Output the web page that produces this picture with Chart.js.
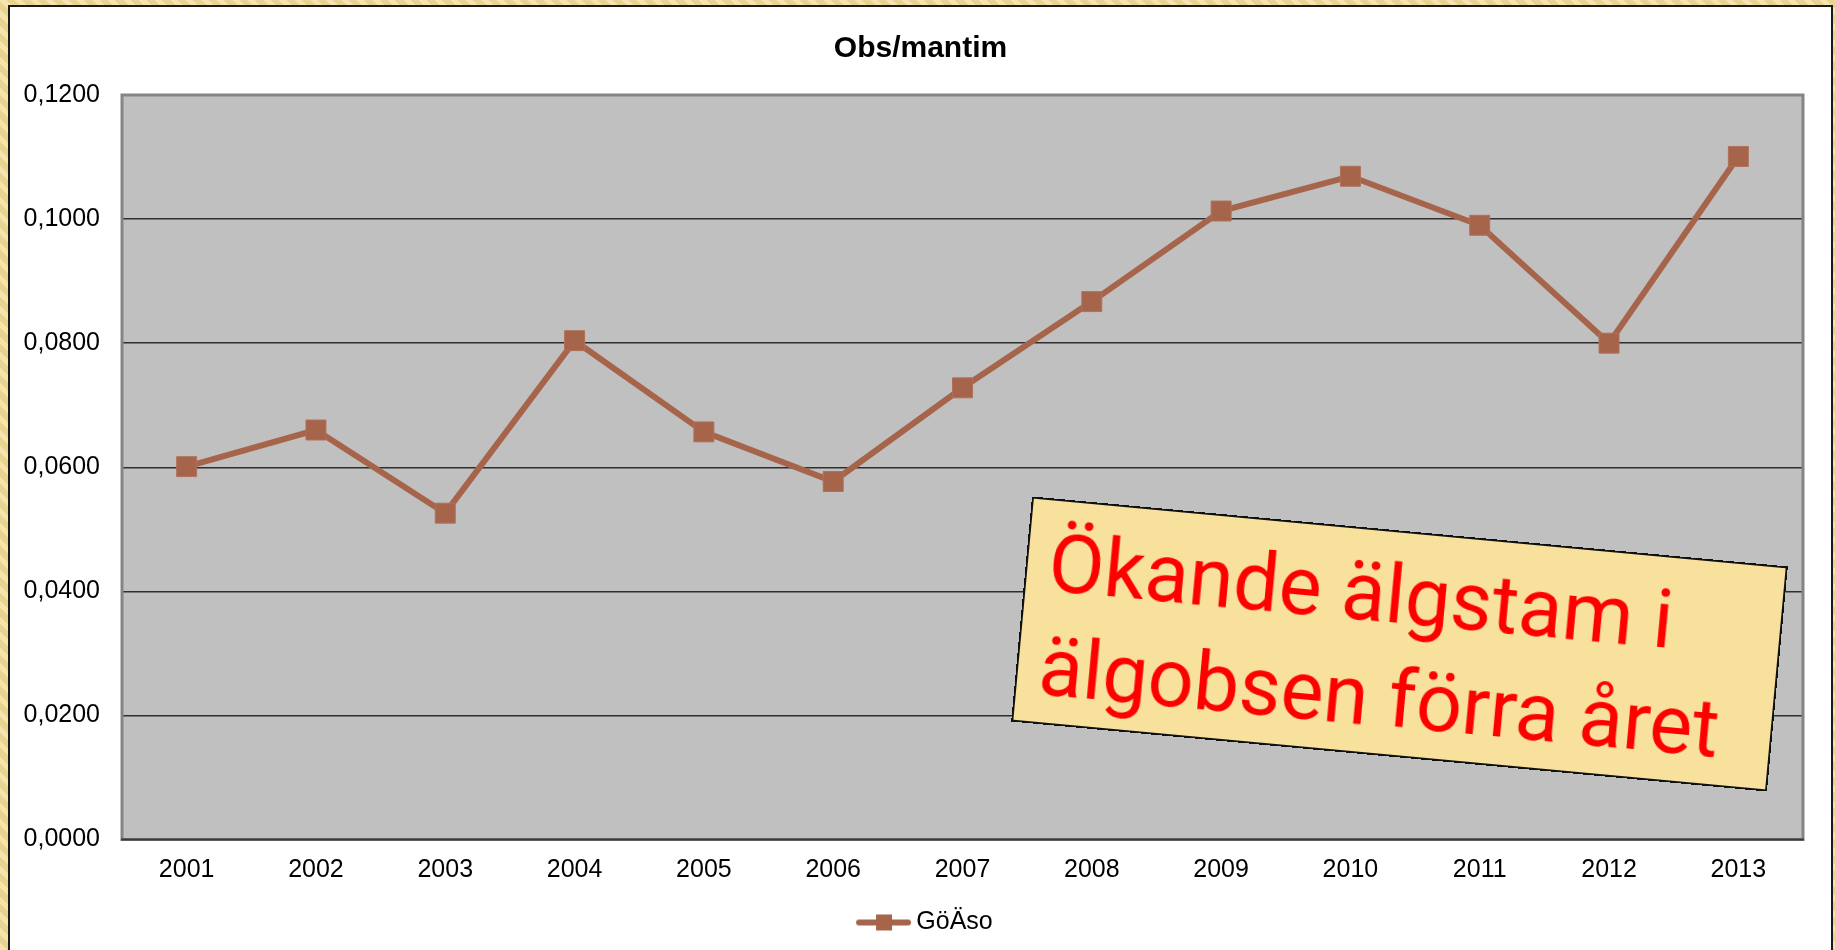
<!DOCTYPE html>
<html lang="sv">
<head>
<meta charset="utf-8">
<title>Obs/mantim</title>
<script src="https://cdn.jsdelivr.net/npm/chart.js@4.4.1/dist/chart.umd.min.js"></script>
<style>
    html, body { margin: 0; padding: 0; width: 1835px; height: 950px; overflow: hidden; }
    body {
        position: relative;
        background: #f1dc9c repeating-linear-gradient(45deg, #f6e4ad 0 5px, #ead290 5px 11px);
        font-family: "Liberation Sans", Arial, sans-serif;
    }
    #frame {
        position: absolute; left: 8px; top: 5px;
        width: 1821px; height: 960px;
        border: 2px solid #1a1a1a; background: #fff;
    }
    #chart { display: block; }
    #note {
        position: absolute; left: 1020px; top: 531px;
        width: 759px; height: 226px; box-sizing: border-box;
        border: 2px solid #111; background: #f8e09d;
        transform: rotate(5.29deg);
        color: #ff0000; font-family: Roboto, sans-serif;
        font-size: 81px; line-height: 104px;
        padding: 11px 0 0 21px; white-space: nowrap;
    }
</style>
</head>
<body>
<div id="frame"><canvas id="chart" width="1821" height="943"></canvas></div>
<div id="note">Ökande älgstam i<br>älgobsen förra året</div>
<script>
// data
const years = ['2001', '2002', '2003', '2004', '2005', '2006', '2007', '2008', '2009', '2010', '2011', '2012', '2013'];
const obsPerHour = [0.0601, 0.0660, 0.0526, 0.0804, 0.0657, 0.0577, 0.0728, 0.0867, 0.1013, 0.1069, 0.0990, 0.0800, 0.1101];
const seriesName = 'GöÄso';
const chartTitle = 'Obs/mantim';
const yTicks = [0, 0.02, 0.04, 0.06, 0.08, 0.10, 0.12];

const lineColor = '#a6654b';
const FONT = '"Liberation Sans", Arial, sans-serif';

// legend icon: line with a square marker, like the spreadsheet legend
// (drawn a bit off centre so the whole entry sits where the original does)
function legendIcon() {
    const c = document.createElement('canvas');
    c.width = 72;
    c.height = 20;
    const ctx = c.getContext('2d');
    const o = 16;
    ctx.strokeStyle = lineColor;
    ctx.lineWidth = 6;
    ctx.lineCap = 'round';
    ctx.beginPath();
    ctx.moveTo(o + 3, 10);
    ctx.lineTo(o + 52, 10);
    ctx.stroke();
    ctx.fillStyle = lineColor;
    ctx.fillRect(o + 20, 2, 16, 16);
    return c;
}

// grey plot area with its border
const plotArea = {
    id: 'plotArea',
    beforeDraw(chart) {
        const { ctx, chartArea: a } = chart;
        ctx.save();
        ctx.fillStyle = '#c0c0c0';
        ctx.fillRect(a.left, a.top, a.right - a.left, a.bottom - a.top);
        ctx.restore();
    },
    beforeDatasetsDraw(chart) {
        const { ctx, chartArea: a } = chart;
        ctx.save();
        ctx.strokeStyle = '#858585';
        ctx.lineWidth = 3;
        ctx.strokeRect(a.left, a.top, a.right - a.left, a.bottom - a.top);
        ctx.strokeStyle = '#3a3a3a';
        ctx.lineWidth = 2;
        ctx.beginPath();
        ctx.moveTo(a.left - 1, a.bottom);
        ctx.lineTo(a.right + 1, a.bottom);
        ctx.stroke();
        ctx.restore();
    }
};

const icon = legendIcon();

new Chart(document.getElementById('chart'), {
    type: 'line',
    data: {
        labels: years,
        datasets: [{
            label: seriesName,
            data: obsPerHour,
            borderColor: lineColor,
            backgroundColor: lineColor,
            borderWidth: 6,
            pointStyle: 'rect',
            pointRadius: 14.1,
            pointBorderWidth: 1,
            pointBorderColor: '#b0705a',
            pointBackgroundColor: lineColor,
            tension: 0
        }]
    },
    options: {
        responsive: false,
        animation: false,
        devicePixelRatio: 1,
        layout: { padding: { top: 0, right: 0, bottom: 5, left: 0 } },
        plugins: {
            title: {
                display: true,
                text: chartTitle,
                color: '#000',
                font: { family: FONT, size: 30, weight: 'bold' },
                padding: { top: 24, bottom: 28 }
            },
            legend: {
                position: 'bottom',
                labels: {
                    color: '#000',
                    font: { family: FONT, size: 25 },
                    usePointStyle: true,
                    pointStyleWidth: 55.5,
                    padding: 26.5,
                    generateLabels(chart) {
                        return chart.data.datasets.map((ds, i) => ({
                            text: ds.label,
                            pointStyle: icon,
                            fillStyle: lineColor,
                            strokeStyle: lineColor,
                            lineWidth: 0,
                            hidden: false,
                            datasetIndex: i
                        }));
                    }
                }
            },
            tooltip: { enabled: false }
        },
        scales: {
            x: {
                offset: true,
                afterFit(scale) { scale.height = 44; },
                grid: { display: false, drawTicks: false },
                border: { display: false },
                ticks: {
                    color: '#000',
                    font: { family: FONT, size: 25 },
                    padding: 16,
                    maxRotation: 0
                }
            },
            y: {
                min: 0,
                max: 0.12,
                afterFit(scale) { scale.width = 112; },
                afterBuildTicks(scale) { scale.ticks = yTicks.map(v => ({ value: v })); },
                grid: { color: '#2e2e2e', lineWidth: 1.5, drawTicks: false },
                border: { display: false },
                ticks: {
                    color: '#000',
                    font: { family: FONT, size: 25 },
                    padding: 22,
                    callback: v => v.toFixed(4).replace('.', ',')
                }
            },
            // empty right-hand margin, same width as the white gap in the original
            gap: {
                type: 'linear',
                position: 'right',
                afterFit(scale) { scale.width = 28; },
                grid: { display: false, drawTicks: false },
                border: { display: false },
                ticks: { display: false }
            }
        }
    },
    plugins: [plotArea]
});
</script>
</body>
</html>
